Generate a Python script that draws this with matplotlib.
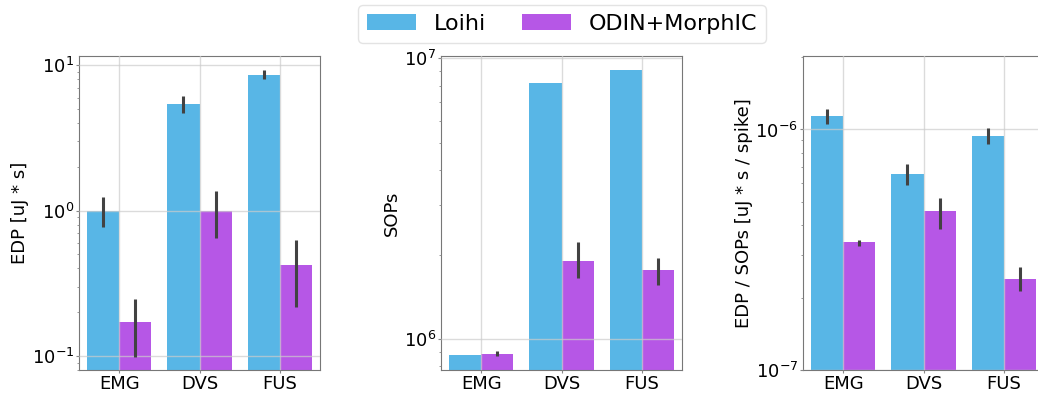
import numpy as np
import matplotlib
matplotlib.use("Agg")
import matplotlib.pyplot as plt
from matplotlib.patches import Patch

# ── data ──────────────────────────────────────────────────────────────────────
DATASETS = ["EMG", "DVS", "FUS"]
HW       = ["Loihi", "ODIN+MorphIC"]
COLORS   = {"Loihi": "#58b6e6", "ODIN+MorphIC": "#b657e6"}

# EDP [uJ * s]
edp_loihi    = [1.0, 5.42, 8.63]
edp_loihi_lo = [0.77, 4.72, 8.01]
edp_loihi_hi = [1.25, 6.15, 9.29]
edp_odin     = [0.17, 1.0, 0.42]
edp_odin_lo  = [0.099, 0.645, 0.218]
edp_odin_hi  = [0.245, 1.36, 0.628]

# SOPs
sops_loihi    = [8.8e5, 8.2e6, 9.06e6]
sops_loihi_lo = [8.8e5, 8.2e6, 9.06e6]
sops_loihi_hi = [8.8e5, 8.2e6, 9.06e6]
sops_odin     = [8.87e5, 1.905e6, 1.76e6]
sops_odin_lo  = [8.67e5, 1.65e6, 1.56e6]
sops_odin_hi  = [9.08e5, 2.22e6, 1.95e6]

# EDP / SOPs [uJ * s / spike]
eps_loihi    = [1.135e-6, 6.54e-7, 9.4e-7]
eps_loihi_lo = [1.05e-6, 5.9e-7, 8.72e-7]
eps_loihi_hi = [1.22e-6, 7.18e-7, 1.01e-6]
eps_odin     = [3.39e-7, 4.56e-7, 2.40e-7]
eps_odin_lo  = [3.29e-7, 3.85e-7, 2.14e-7]
eps_odin_hi  = [3.47e-7, 5.19e-7, 2.67e-7]

W, H = 1038, 396


def draw_panel(ax, loihi, odin, ylabel, ylim):
    x = np.arange(len(DATASETS))
    width = 0.4
    for off, hw, (mid, lo, hi) in [(-width / 2, "Loihi", loihi),
                                   (width / 2, "ODIN+MorphIC", odin)]:
        mid, lo, hi = map(np.asarray, (mid, lo, hi))
        ax.bar(x + off, mid, width, color=COLORS[hw], zorder=1)
        ax.vlines(x + off, lo, hi, color="#424242", linewidth=2.2, zorder=3)
    ax.set_yscale("log")
    ax.set_ylim(*ylim)
    ax.set_xlim(-0.5, len(DATASETS) - 0.5)
    ax.set_xticks(x)
    ax.set_xticklabels(DATASETS)
    ax.set_ylabel(ylabel, fontsize=13, labelpad=2)
    ax.tick_params(axis="both", labelsize=13, colors="#888888", labelcolor="black",
                   length=2, pad=1.5)
    ax.tick_params(axis="both", which="minor", colors="#888888", length=1.5)
    ax.grid(True, which="major", color="#cccccc", alpha=0.7, linewidth=1.0, zorder=2)
    ax.set_axisbelow(False)
    for s in ax.spines.values():
        s.set_color("#777777")


fig = plt.figure(figsize=(W / 100, H / 100), dpi=100)

bottom = (H - 370) / H
height = 314 / H
lefts = [79, 441, 803]
axes = [fig.add_axes([l / W, bottom, 241 / W, height]) for l in lefts]

draw_panel(axes[0], (edp_loihi, edp_loihi_lo, edp_loihi_hi),
           (edp_odin, edp_odin_lo, edp_odin_hi), "EDP [uJ * s]", (0.080, 11.6))
draw_panel(axes[1], (sops_loihi, sops_loihi_lo, sops_loihi_hi),
           (sops_odin, sops_odin_lo, sops_odin_hi), "SOPs", (7.76e5, 1.02e7))
draw_panel(axes[2], (eps_loihi, eps_loihi_lo, eps_loihi_hi),
           (eps_odin, eps_odin_lo, eps_odin_hi), "EDP / SOPs [uJ * s / spike]",
           (1e-7, 2.02e-6))

handles = [Patch(facecolor=COLORS[h], label=h) for h in HW]
fig.legend(handles=handles, loc="center", bbox_to_anchor=(562 / W, 1 - 24 / H),
           ncol=2, fontsize=16, frameon=True, edgecolor="#dddddd",
           handlelength=2.2, columnspacing=1.6)

fig.savefig("out.png", dpi=100)
